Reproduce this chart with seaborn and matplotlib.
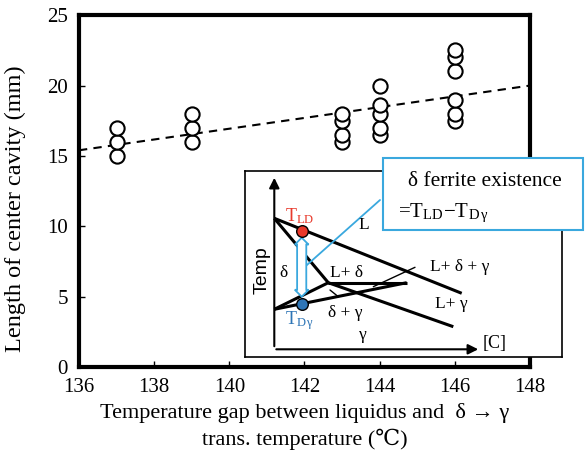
import matplotlib
matplotlib.use("Agg")
import matplotlib.pyplot as plt
import seaborn as sns
import pandas as pd
from matplotlib.patches import Rectangle

# measured points
temp_gap = [137, 137, 137, 139, 139, 139, 143, 143, 143, 143,
            144, 144, 144, 144, 144, 146, 146, 146, 146, 146, 146]
cavity_len = [15, 16, 17, 16, 17, 18, 16, 16.5, 17.5, 18,
              16.5, 17, 18, 18.6, 20, 17.5, 18, 19, 21, 22, 22.5]

# dashed trend line
trend_x = [136, 148]
trend_y = [15.4, 20.0]

# schematic phase diagram (inset units)
liquidus_c, liquidus_t = [29.3, 216.7], [138.7, 63.7]
delta_c, delta_t = [29.3, 83.3], [138.7, 74.3]
perit_c, perit_t = [83.3, 161.7], [74.3, 74.3]
gamma_c, gamma_t = [83.3, 208.3], [74.3, 30.3]
low1_c, low1_t = [29.3, 83.3], [47.7, 74.3]
low2_c, low2_t = [29.3, 161.7], [47.7, 74.3]
ptr1_c, ptr1_t = [128.3, 170.0], [70.3, 89.7]
ptr2_c, ptr2_t = [85.0, 93.3], [67.0, 60.3]
t_ld = (56.7, 126.3)
t_dg = (56.7, 52.7)

sns.set_style("ticks")
plt.rcParams["font.family"] = ["Liberation Serif", "DejaVu Serif", "Noto Sans CJK JP"]
plt.rcParams["mathtext.fontset"] = "stix"
for key in ["text.color", "axes.labelcolor", "xtick.color", "ytick.color", "axes.edgecolor"]:
    plt.rcParams[key] = "black"

fig = plt.figure(figsize=(5.85, 4.61), dpi=100)
ax = fig.add_axes([0.135, 0.204, 0.771, 0.763])

df = pd.DataFrame({"gap": temp_gap, "cavity": cavity_len})
sns.scatterplot(data=df, x="gap", y="cavity", ax=ax, marker="o", s=105,
                facecolor="white", edgecolor="black", linewidth=1.5, zorder=3)
sns.lineplot(x=trend_x, y=trend_y, ax=ax, color="black", lw=1.5,
             linestyle=(0, (4, 3)), zorder=2)

ax.set_xlim(136, 148)
ax.set_ylim(0, 25)
ax.set_xticks(range(136, 149, 2))
ax.set_yticks(range(0, 26, 5))
ax.tick_params(direction="in", length=4, width=1, labelsize=15, pad=8)
for s in ax.spines.values():
    s.set_linewidth(3)
ax.set_xlabel("Temperature gap between liquidus and  δ → γ\ntrans. temperature (℃)",
              fontsize=16, labelpad=4, linespacing=1.35)
ax.set_ylabel("Length of center cavity (mm)", fontsize=17.5, labelpad=4)
ax.yaxis.set_label_coords(-0.118, 0.45)

# inset schematic
ax_in = fig.add_axes([0.4188, 0.2256, 0.5419, 0.4041])
ax_in.set_xlim(0, 317)
ax_in.set_ylim(0, 186.3)
ax_in.set_xticks([])
ax_in.set_yticks([])
ax_in.set_facecolor("white")
for s in ax_in.spines.values():
    s.set_linewidth(1.2)
    s.set_color("black")

ax_in.annotate("", xy=(29.3, 182), xytext=(29.3, 8),
               arrowprops=dict(arrowstyle="-|>", lw=1.5, color="black", mutation_scale=15))
ax_in.annotate("", xy=(236, 7.7), xytext=(28.5, 7.7),
               arrowprops=dict(arrowstyle="-|>", lw=1.5, color="black", mutation_scale=15))

for c, t in [(liquidus_c, liquidus_t), (delta_c, delta_t), (perit_c, perit_t),
             (gamma_c, gamma_t), (low1_c, low1_t), (low2_c, low2_t)]:
    ax_in.plot(c, t, color="black", lw=2.2, solid_capstyle="butt")
for c, t in [(ptr1_c, ptr1_t), (ptr2_c, ptr2_t)]:
    ax_in.plot(c, t, color="black", lw=1)

ax_in.plot([60, 135], [90.3, 157], color="#3aa8de", lw=1.3, clip_on=False)
ax_in.text(56.7, 90, " " * 28, rotation=90, ha="center", va="center", fontsize=5,
           bbox=dict(boxstyle="darrow,pad=0.3", fc="white", ec="#3aa8de", lw=1.3))

ax_in.scatter(*t_ld, s=70, color="#e8392b", edgecolor="black", lw=1, zorder=4)
ax_in.scatter(*t_dg, s=70, color="#2e75b6", edgecolor="black", lw=1, zorder=4)
ax_in.text(54.3, 140.3, "T$_{\\mathregular{LD}}$", color="#e8392b", fontsize=13,
           ha="center", va="center")
ax_in.text(55, 36.3, "T$_{\\mathregular{D\\,γ}}$", color="#2e75b6", fontsize=13,
           ha="center", va="center")

inset_labels = [("L", 118.3, 132), ("L+ δ", 101, 83.7), ("L+ δ + γ", 215, 89.7),
                ("L+ γ", 206.7, 53), ("δ + γ", 100, 44.3), ("γ", 118.3, 22),
                ("δ", 38.3, 84.3)]
for txt, x, y in inset_labels:
    ax_in.text(x, y, txt, fontsize=12.5, ha="center", va="center")
ax_in.text(238, 13, "[C]", fontsize=13, ha="left", va="center")
ax_in.text(16.7, 87, "Temp", fontsize=14, rotation=90, ha="center", va="center",
           family="Liberation Sans")

# callout box
fig.add_artist(Rectangle((0.6553, 0.501), 0.3418, 0.1556, transform=fig.transFigure,
                         fc="white", ec="#3aa8de", lw=1.5, zorder=5))
fig.text(0.829, 1 - 181.7 / 461, "δ ferrite existence", fontsize=15.5,
         ha="center", va="center", zorder=6)
fig.text(0.681, 1 - 213 / 461,
         "=T$_{\\mathregular{LD}}$−T$_{\\mathregular{D\\,γ}}$", fontsize=15,
         ha="left", va="center", zorder=6)

fig.savefig("out.png", dpi=100)
